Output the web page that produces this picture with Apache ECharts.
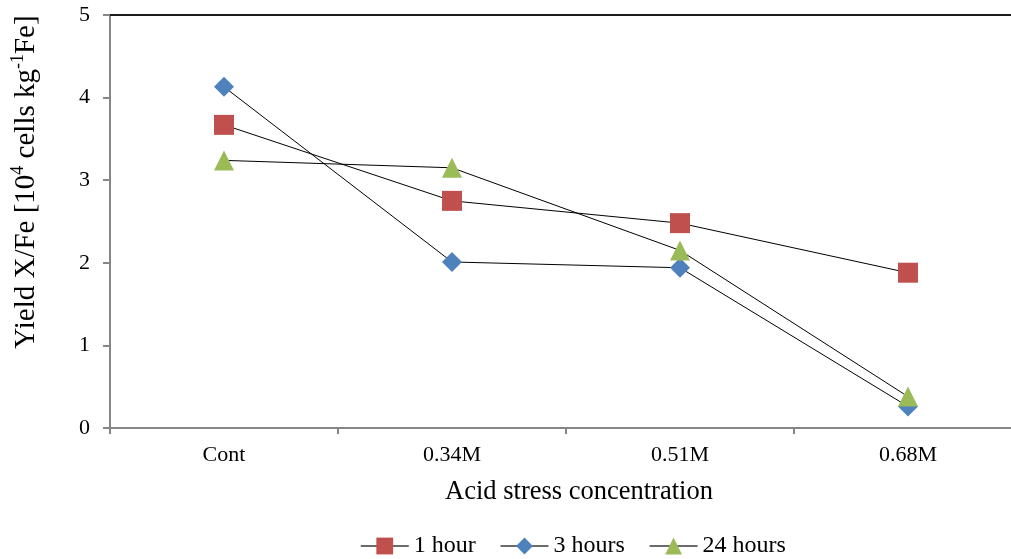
<!DOCTYPE html>
<html>
<head>
<meta charset="utf-8">
<script src="https://cdn.jsdelivr.net/npm/echarts@6/dist/echarts.min.js"></script>
<style>
  html, body { margin: 0; padding: 0; background: #fff; }
  #chart { width: 1011px; height: 559px; }
</style>
</head>
<body>
<div id="chart"></div>
<script>
// Acid stress concentrations on the x axis
const categories = ['Cont', '0.34M', '0.51M', '0.68M'];
// Yield X/Fe [10^4 cells kg^-1 Fe] after each exposure time
const oneHour = [3.67, 2.75, 2.48, 1.88];
const threeHours = [4.13, 2.01, 1.94, 0.26];
const twentyFourHours = [3.24, 3.15, 2.15, 0.38];
const seriesNames = ['1 hour', '3 hours', '24 hours'];
const yTicks = [0, 1, 2, 3, 4, 5];

const FONT = '"Liberation Serif", "Times New Roman", serif';
const AXIS_GREY = '#868686';

const chart = echarts.init(document.getElementById('chart'), null, { renderer: 'canvas' });

function lineSeries(name, data, symbol, color) {
  return {
    name: name,
    type: 'line',
    data: data,
    xAxisIndex: 0,
    symbol: symbol,
    symbolSize: 20,
    showAllSymbol: true,
    lineStyle: { color: '#000', width: 1 },
    itemStyle: { color: color, borderWidth: 0 },
    emphasis: { disabled: true }
  };
}

chart.setOption({
  animation: false,
  backgroundColor: '#fff',
  textStyle: { fontFamily: FONT, color: '#000' },
  // the plot area runs past the right edge of the canvas
  grid: { left: 110, top: 15, width: 912, height: 413, containLabel: false, outerBoundsMode: 'none' },
  xAxis: [
    {
      type: 'category',
      data: categories,
      position: 'bottom',
      boundaryGap: true,
      axisLine: { lineStyle: { color: AXIS_GREY, width: 2 } },
      axisTick: { show: true, inside: false, length: 6, alignWithLabel: false, lineStyle: { color: AXIS_GREY, width: 2 } },
      axisLabel: { color: '#000', fontFamily: FONT, fontSize: 22, margin: 16 },
      splitLine: { show: false }
    },
    {
      // frame line along the top of the plot area
      type: 'category',
      data: categories,
      position: 'top',
      axisLine: { lineStyle: { color: '#1a1a1a', width: 2 } },
      axisTick: { show: false },
      axisLabel: { show: false },
      splitLine: { show: false }
    }
  ],
  yAxis: {
    type: 'value',
    min: yTicks[0],
    max: yTicks[yTicks.length - 1],
    interval: 1,
    axisLine: { show: true, lineStyle: { color: AXIS_GREY, width: 2 } },
    axisTick: { show: true, inside: false, length: 7, lineStyle: { color: AXIS_GREY, width: 2 } },
    axisLabel: { color: '#000', fontFamily: FONT, fontSize: 22, margin: 20 },
    splitLine: { show: false }
  },
  legend: {
    left: 355,
    top: 529,
    itemWidth: 48,
    itemHeight: 21,
    itemGap: 24,
    lineStyle: { color: '#3a3a3a', width: 1.5 },
    textStyle: { fontFamily: FONT, fontSize: 24, color: '#000' },
    data: seriesNames
  },
  graphic: [
    {
      type: 'text',
      x: 25,
      y: 182,
      rotation: Math.PI / 2,
      style: {
        text: '{n|Yield X/Fe [10}{s|4}{n| cells kg}{s|-1}{n|Fe]}',
        align: 'center',
        verticalAlign: 'middle',
        fill: '#000',
        rich: {
          n: { fontFamily: FONT, fontSize: 29, fill: '#000', lineHeight: 32, verticalAlign: 'bottom' },
          s: { fontFamily: FONT, fontSize: 18, fill: '#000', lineHeight: 32, verticalAlign: 'top' }
        }
      }
    },
    {
      type: 'text',
      x: 579,
      y: 492,
      style: {
        text: 'Acid stress concentration',
        align: 'center',
        verticalAlign: 'middle',
        fontFamily: FONT,
        fontSize: 26.5,
        fill: '#000'
      }
    }
  ],
  series: [
    lineSeries(seriesNames[0], oneHour, 'rect', '#C0504D'),
    lineSeries(seriesNames[1], threeHours, 'diamond', '#4F81BD'),
    lineSeries(seriesNames[2], twentyFourHours, 'triangle', '#9BBB59')
  ]
});
</script>
</body>
</html>
